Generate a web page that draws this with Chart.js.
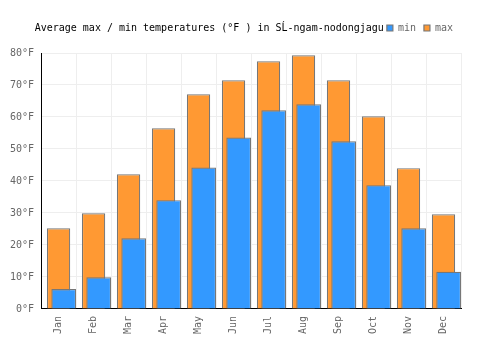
<!DOCTYPE html>
<html>
<head>
<meta charset="utf-8">
<script src="https://cdn.jsdelivr.net/npm/chart.js@4/dist/chart.umd.min.js"></script>
<style>
  body { margin: 0; background: #fff; }
  #wrap { width: 500px; height: 350px; }
</style>
</head>
<body>
<div id="wrap"><canvas id="tempChart"></canvas></div>
<script>
// data
var months = ['Jan', 'Feb', 'Mar', 'Apr', 'May', 'Jun', 'Jul', 'Aug', 'Sep', 'Oct', 'Nov', 'Dec'];
var minTemps = [6.2, 9.9, 22.1, 34.0, 44.2, 53.6, 62.1, 64.0, 52.4, 38.7, 25.2, 11.6];
var maxTemps = [25.2, 29.9, 42.1, 56.5, 67.1, 71.5, 77.4, 79.3, 71.5, 60.2, 44.0, 29.6];
var yTicks = [0, 10, 20, 30, 40, 50, 60, 70, 80];
var chartTitle = 'Average max / min temperatures (°F ) in SĹ-ngam-nodongjagu';

var monoFont = { family: '"DejaVu Sans Mono", monospace', size: 10 };

// title sits on the same line as the legend, just left of it
var inlineTitle = {
    id: 'inlineTitle',
    afterDraw: function(chart) {
        var boxes = chart.legend.legendHitBoxes;
        if (!boxes || !boxes.length) return;
        var ctx = chart.ctx;
        ctx.save();
        ctx.font = '10px "DejaVu Sans Mono", monospace';
        ctx.fillStyle = '#000';
        ctx.textAlign = 'right';
        ctx.textBaseline = 'middle';
        ctx.fillText(chartTitle, boxes[0].left - 3, boxes[0].top + boxes[0].height / 2);
        ctx.restore();
    }
};

// a bit of extra room between legend row and plot
var legendSpacer = {
    id: 'legendSpacer',
    beforeLayout: function(chart) {
        var legend = chart.legend;
        if (!legend || legend._spaced) return;
        var fit = legend.fit;
        legend.fit = function() {
            fit.call(this);
            this.height += 10;
        };
        legend._spaced = true;
    }
};

new Chart(document.getElementById('tempChart'), {
    type: 'bar',
    data: {
        labels: months,
        datasets: [{
            // empty spacer so the min bars sit right of centre
            label: '',
            data: [],
            order: 0
        }, {
            label: 'min',
            data: minTemps,
            backgroundColor: '#3399ff',
            borderColor: '#777777',
            borderWidth: 1.2,
            categoryPercentage: 0.589,
            barPercentage: 2.4,
            order: 1
        }, {
            label: 'max',
            data: maxTemps,
            backgroundColor: '#ff9933',
            borderColor: '#777777',
            borderWidth: 1.2,
            grouped: false,
            categoryPercentage: 1,
            barPercentage: 0.667,
            order: 2
        }]
    },
    options: {
        responsive: true,
        maintainAspectRatio: false,
        animation: false,
        layout: {
            padding: { left: 3, right: 39, top: 15, bottom: 9 }
        },
        plugins: {
            title: { display: false },
            tooltip: { enabled: false },
            legend: {
                position: 'top',
                align: 'end',
                labels: {
                    font: monoFont,
                    color: '#666',
                    boxWidth: 6,
                    boxHeight: 6,
                    padding: 8,
                    filter: function(item) { return item.text !== ''; }
                }
            }
        },
        scales: {
            x: {
                grid: { color: '#eeeeee', drawTicks: false, offset: true },
                border: { color: '#000', width: 1 },
                ticks: {
                    font: monoFont,
                    color: '#666',
                    minRotation: 90,
                    maxRotation: 90,
                    padding: 7
                }
            },
            y: {
                min: 0,
                max: 80,
                afterBuildTicks: function(scale) {
                    scale.ticks = yTicks.map(function(v) { return { value: v }; });
                },
                grid: { color: '#eeeeee', drawTicks: false },
                border: { color: '#000', width: 1 },
                ticks: {
                    font: monoFont,
                    color: '#666',
                    padding: 7,
                    callback: function(v) { return v + '°F'; }
                }
            }
        }
    },
    plugins: [legendSpacer, inlineTitle]
});
</script>
</body>
</html>
